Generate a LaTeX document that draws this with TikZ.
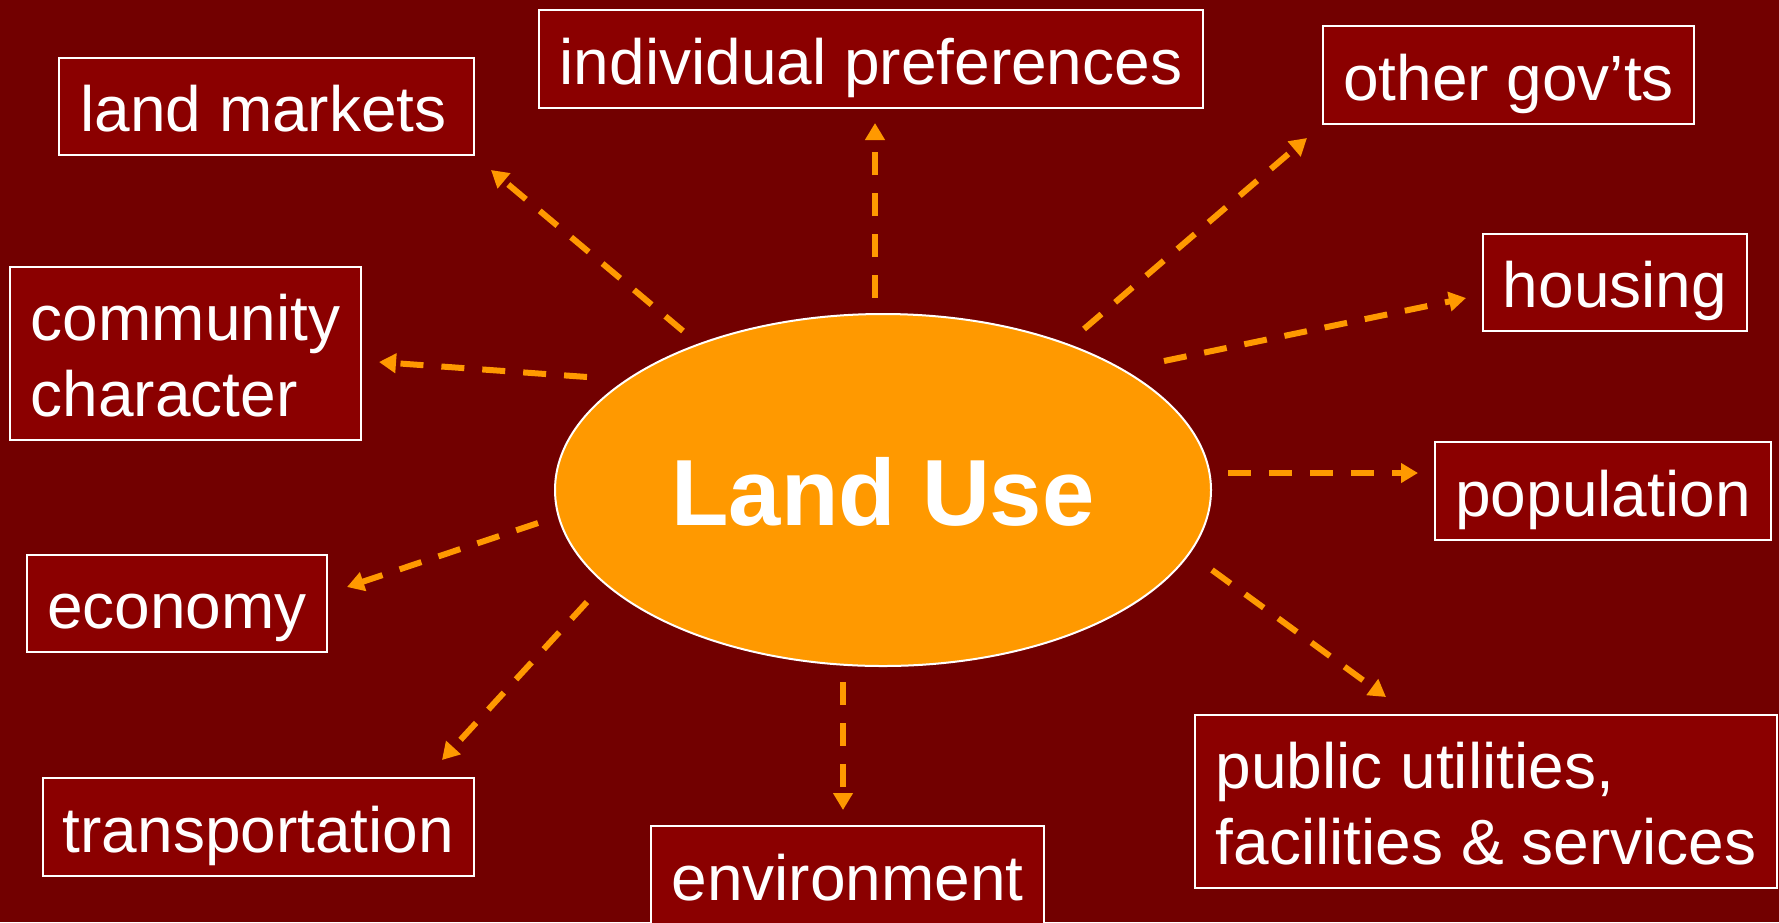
\documentclass[tikz,border=0pt]{standalone}
\usepackage{fontspec}
\setmainfont{Liberation Sans}
\usetikzlibrary{shapes.geometric,arrows.meta}
\definecolor{bgred}{HTML}{720000}
\definecolor{boxred}{HTML}{8B0000}
\definecolor{lorange}{HTML}{FF9900}
\newcommand{\topstrut}{\rule{0pt}{60pt}}
\newcommand{\botstrut}{\rule[-10pt]{0pt}{10pt}}
\begin{document}
\begin{tikzpicture}[x=1pt,y=-1pt,
  boxbase/.style={draw=white,line width=2.5pt,fill=boxred,text=white,inner sep=0pt,
    font=\fontsize{64}{76}\selectfont,align=left},
  box/.style={boxbase,text height=60pt,text depth=10pt},
  link/.style={draw=lorange,line width=6pt,dash pattern=on 23pt off 18pt,
    -{Triangle[width=19pt,length=17pt]}}
]
\fill[bgred] (0,0) rectangle (1779,922);
\useasboundingbox (0,0) rectangle (1779,922);

\node[ellipse,draw=white,line width=2pt,fill=lorange,minimum width=656pt,minimum height=352pt,inner sep=0pt,
  text=white,font=\fontsize{94}{100}\selectfont\bfseries,text height=80pt,text depth=10pt] (lu) at (883,490) {Land Use};

\node[box,minimum width=415pt,minimum height=97pt] (lm) at (266.5,106.5) {land markets\hspace{6pt}};
\node[box,minimum width=664pt,minimum height=98pt] (ip) at (871,59) {individual preferences};
\node[box,minimum width=371pt,minimum height=98pt] (og) at (1508.5,75) {other gov’ts};
\node[boxbase,minimum width=351pt,minimum height=173pt] (cc) at (185.5,353.5) {\topstrut community\\character\botstrut};
\node[box,minimum width=264pt,minimum height=97pt] (ho) at (1615,282.5) {housing};
\node[box,minimum width=336pt,minimum height=98pt] (po) at (1603,491) {population};
\node[box,minimum width=300pt,minimum height=97pt] (ec) at (177,603.5) {economy};
\node[box,minimum width=431pt,minimum height=98pt] (tr) at (258.5,827) {transportation};
\node[box,minimum width=393pt,minimum height=98pt] (en) at (847.5,875) {environment};
\node[boxbase,minimum width=582pt,minimum height=173pt] (pu) at (1486,801.5) {\topstrut public utilities,\\facilities \& services\botstrut};

\coordinate (lm-s) at (683,331);  \coordinate (lm-e) at (491,170);
\coordinate (ip-s) at (875,298);  \coordinate (ip-e) at (875,123);
\coordinate (og-s) at (1084,329); \coordinate (og-e) at (1307,138);
\coordinate (ho-s) at (1164,361); \coordinate (ho-e) at (1466,298);
\coordinate (po-s) at (1228,473); \coordinate (po-e) at (1418,473);
\coordinate (pu-s) at (1212,570); \coordinate (pu-e) at (1386,697);
\coordinate (en-s) at (843,682);  \coordinate (en-e) at (843,810);
\coordinate (tr-s) at (587,602);  \coordinate (tr-e) at (442,760);
\coordinate (ec-s) at (538,523);  \coordinate (ec-e) at (347,587);
\coordinate (cc-s) at (587,377);  \coordinate (cc-e) at (379,362);

\foreach \n in {lm,ip,og,ho,po,pu,en,tr,ec,cc}{
  \draw[link] (\n-s) -- (\n-e);
}
\end{tikzpicture}
\end{document}
